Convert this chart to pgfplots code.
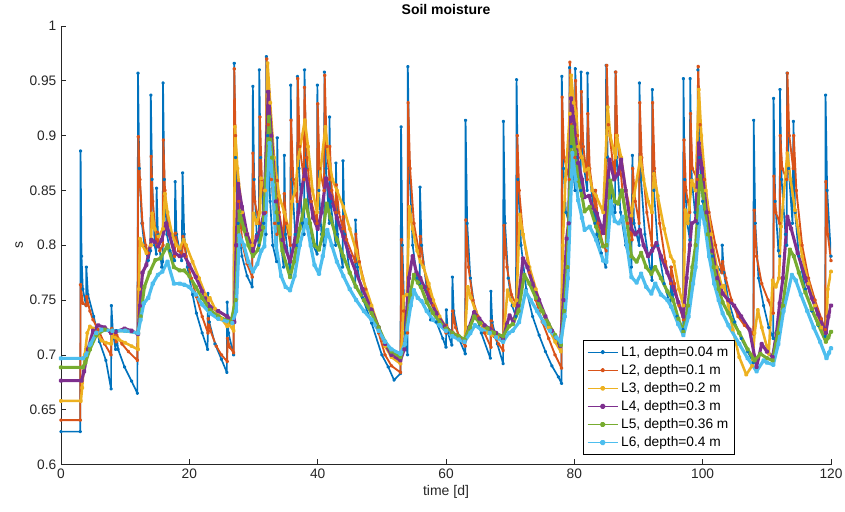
\documentclass[border=0pt]{standalone}
\usepackage{fontspec}
\setmainfont{Liberation Sans}
\usepackage{pgfplots}
\pgfplotsset{compat=1.18}
\definecolor{c1}{RGB}{0,114,189}
\definecolor{c2}{RGB}{217,83,25}
\definecolor{c3}{RGB}{237,177,32}
\definecolor{c4}{RGB}{126,47,142}
\definecolor{c5}{RGB}{119,172,48}
\definecolor{c6}{RGB}{77,190,238}
\definecolor{axc}{RGB}{38,38,38}
\begin{document}
\begin{tikzpicture}
\path[use as bounding box] (-45.75pt,-34.875pt) rectangle (588pt,348.375pt);
\begin{axis}[
  at={(0pt,0pt)}, anchor=south west,
  scale only axis, width=577.5pt, height=328.875pt,
  xmin=0, xmax=120, ymin=0.6, ymax=1,
  axis lines*=left, axis line style={axc,-},
  tick align=inside, tick style={axc, line width=0.5pt}, major tick length=4pt,
  xtick={0,20,...,120},
  ytick={0.6,0.65,0.7,0.75,0.8,0.85,0.9,0.95,1},
  yticklabels={0.6,0.65,0.7,0.75,0.8,0.85,0.9,0.95,1},
  ticklabel style={font=\fontsize{10.3}{12}\selectfont, text=axc},
  /pgf/number format/assume math mode=true,
  xlabel={time [d]}, ylabel={s},
  label style={font=\fontsize{10.5}{12}\selectfont, text=axc},
  xlabel style={yshift=2pt},
  ylabel style={yshift=-2pt},
  title={\textbf{Soil moisture}},
  title style={font=\fontsize{10.5}{12}\selectfont, yshift=-1pt},
  legend style={at={(0.875,0.022)}, anchor=south east, font=\fontsize{10.3}{12}\selectfont,
    draw=black, line width=0.5pt, row sep=0.6pt, inner sep=2.5pt, cells={anchor=west}},
  legend image code/.code={\draw[#1, line width=0.9pt] (0cm,0cm) -- (0.8cm,0cm); \fill[#1] (0.4cm,0cm) circle (1pt);},
  every axis plot/.append style={mark=*, mark size=0.7pt, line join=round},
]
\addplot[c1, line width=1.25pt, mark options={fill=c1,draw=c1}] coordinates {
(0,0.630)(3.0,0.630)(3.05,0.886)(3.2,0.79)(3.4,0.76)(3.9,0.745)(3.95,0.780)(4.2,0.755)(5.1,0.735)(6.0,0.712)(7.0,0.695)(7.8,0.669)(7.85,0.745)(8.1,0.72)(8.5,0.705)(8.6,0.722)(8.9,0.705)(9.9,0.689)(11.0,0.676)(11.9,0.665)
(12.0,0.957)(12.2,0.87)(12.6,0.82)(13.0,0.80)(13.6,0.786)(13.95,0.795)(14.0,0.937)(14.2,0.86)(14.6,0.80)(14.85,0.792)(14.9,0.852)(15.1,0.81)(15.7,0.780)(15.85,0.785)(15.9,0.948)(16.1,0.86)(16.5,0.81)(17.0,0.795)(17.7,0.786)(17.8,0.858)(18.0,0.81)(18.8,0.786)(18.95,0.866)(19.2,0.81)(19.7,0.78)(20.5,0.755)(21.1,0.738)(22.0,0.72)(22.85,0.705)(22.9,0.756)(23.1,0.73)(24.0,0.71)(25.0,0.696)(25.85,0.684)(25.9,0.748)(26.1,0.72)(26.9,0.70)
(27.0,0.966)(27.2,0.88)(27.6,0.82)(28.2,0.79)(29.0,0.772)(29.8,0.762)(29.9,0.945)(30.1,0.86)(30.5,0.81)(30.85,0.80)(30.9,0.960)(31.1,0.88)(31.6,0.82)(31.95,0.81)(32.0,0.972)(32.2,0.90)(32.6,0.84)(33.0,0.80)(33.6,0.785)(33.7,0.898)(33.9,0.82)(34.7,0.78)(34.8,0.882)(35.0,0.81)(35.75,0.772)(35.8,0.946)(36.0,0.86)(36.5,0.81)(36.8,0.80)(36.85,0.954)(37.1,0.87)(37.6,0.82)(37.9,0.81)(37.95,0.960)(38.2,0.87)(38.7,0.82)(39.3,0.80)(39.9,0.792)(39.95,0.946)(40.2,0.85)(40.6,0.81)(41.0,0.80)(41.05,0.958)(41.3,0.87)(41.8,0.82)(41.85,0.917)(42.0,0.84)(42.8,0.80)(42.85,0.875)(43.1,0.81)(43.9,0.78)(43.95,0.877)(44.2,0.81)(45.0,0.775)(45.85,0.762)(45.9,0.823)(46.2,0.78)(47.0,0.752)(48.4,0.729)(50.0,0.70)(51.0,0.689)(51.9,0.677)(52.9,0.683)
(53.0,0.908)(53.2,0.80)(53.6,0.72)(54.0,0.70)(54.05,0.963)(54.3,0.87)(54.8,0.80)(55.5,0.77)(55.9,0.765)(55.95,0.853)(56.2,0.80)(57.0,0.76)(57.6,0.732)(58.5,0.73)(59.5,0.715)(60.0,0.707)(60.05,0.741)(60.3,0.72)(60.9,0.709)(61.0,0.771)(61.2,0.74)(62.0,0.715)(63.0,0.701)(63.05,0.914)(63.3,0.82)(63.8,0.77)(64.5,0.74)(65.5,0.72)(66.9,0.697)(67.0,0.758)(67.2,0.73)(68.0,0.71)(68.9,0.692)(68.95,0.913)(69.2,0.82)(69.7,0.77)(70.3,0.745)(70.9,0.735)(71.0,0.951)(71.2,0.86)(71.7,0.80)(72.5,0.76)(73.5,0.735)(74.5,0.718)(75.5,0.703)(76.5,0.69)(77.5,0.68)(78.0,0.674)
(78.05,0.954)(78.3,0.87)(78.7,0.83)(79.2,0.82)(79.25,0.962)(79.5,0.89)(80.1,0.85)(80.15,0.961)(80.4,0.88)(81.0,0.85)(81.05,0.958)(81.3,0.88)(82.0,0.85)(82.05,0.957)(82.3,0.87)(83.2,0.82)(83.25,0.850)(83.5,0.81)(84.2,0.793)(84.9,0.78)(84.95,0.964)(85.2,0.88)(85.8,0.84)(86.35,0.83)(86.4,0.958)(86.6,0.88)(87.2,0.83)(88.0,0.80)(88.9,0.78)(89.05,0.882)(89.3,0.82)(90.1,0.80)(90.15,0.948)(90.4,0.86)(91.0,0.81)(92.1,0.768)(92.15,0.942)(92.4,0.85)(93.0,0.80)(94.0,0.765)(95.0,0.744)(95.05,0.780)(95.3,0.755)(96.0,0.735)(96.95,0.723)
(97.0,0.952)(97.2,0.86)(97.6,0.82)(98.0,0.805)(98.05,0.952)(98.3,0.86)(98.8,0.83)(99.2,0.82)(99.25,0.960)(99.5,0.88)(100.0,0.84)(100.8,0.81)(101.5,0.79)(102.3,0.78)(103.0,0.775)(103.05,0.800)(103.3,0.775)(104.0,0.75)(105.0,0.73)(106.0,0.715)(107.0,0.703)(107.9,0.693)(107.95,0.914)(108.2,0.82)(108.7,0.77)(109.5,0.745)(110.3,0.725)(111.0,0.715)(111.05,0.934)(111.3,0.84)(111.8,0.795)(112.0,0.79)(112.05,0.942)(112.3,0.86)(112.9,0.81)(113.1,0.80)(113.15,0.957)(113.4,0.87)(114.0,0.82)(114.15,0.913)(114.4,0.83)(115.0,0.79)(116.0,0.76)(117.0,0.74)(118.0,0.727)(119.1,0.717)(119.15,0.937)(119.4,0.85)(120.0,0.79)
};
\addlegendentry{L1, depth=0.04 m}
\addplot[c2, line width=1.4pt, mark options={fill=c2,draw=c2}] coordinates {
(0,0.6405)(3.0,0.6405)(3.05,0.764)(3.4,0.747)(3.95,0.745)(4.0,0.753)(4.5,0.74)(5.0,0.732)(5.8,0.723)(6.8,0.71)(7.8,0.700)(7.9,0.724)(8.3,0.718)(8.6,0.712)(8.7,0.718)(9.5,0.71)(10.5,0.703)(11.9,0.695)
(12.05,0.899)(12.3,0.86)(12.7,0.82)(13.2,0.80)(13.6,0.793)(14.0,0.80)(14.05,0.881)(14.3,0.84)(14.9,0.80)(15.0,0.812)(15.4,0.795)(15.9,0.80)(15.95,0.896)(16.2,0.85)(16.8,0.81)(17.7,0.790)(17.85,0.811)(18.3,0.795)(18.9,0.792)(19.0,0.808)(19.5,0.79)(20.3,0.77)(21.1,0.753)(22.0,0.735)(22.9,0.720)(22.95,0.733)(23.3,0.722)(24.2,0.708)(25.0,0.70)(25.9,0.694)(25.95,0.715)(26.3,0.707)(26.9,0.702)
(27.0,0.961)(27.2,0.90)(27.7,0.84)(28.3,0.80)(29.0,0.783)(29.8,0.771)(29.9,0.884)(30.2,0.84)(30.9,0.82)(31.0,0.917)(31.3,0.86)(31.9,0.83)(32.05,0.970)(32.3,0.91)(32.8,0.86)(33.3,0.82)(33.65,0.81)(33.7,0.859)(34.0,0.83)(34.7,0.805)(34.8,0.847)(35.1,0.82)(35.75,0.80)(35.85,0.914)(36.2,0.86)(36.8,0.84)(36.9,0.952)(37.2,0.89)(37.85,0.86)(37.95,0.944)(38.3,0.88)(39.0,0.84)(39.9,0.82)(40.0,0.929)(40.3,0.87)(41.0,0.85)(41.1,0.955)(41.4,0.89)(41.85,0.86)(41.9,0.89)(42.2,0.85)(42.85,0.83)(42.9,0.855)(43.3,0.83)(43.95,0.815)(44.0,0.826)(44.5,0.805)(45.85,0.785)(45.95,0.81)(46.5,0.785)(47.5,0.76)(48.4,0.738)(49.5,0.72)(50.5,0.70)(51.5,0.69)(52.9,0.684)
(53.05,0.805)(53.4,0.74)(54.0,0.72)(54.1,0.93)(54.4,0.87)(55.0,0.82)(55.9,0.79)(56.0,0.808)(56.4,0.785)(57.2,0.76)(58.0,0.745)(59.0,0.73)(60.0,0.72)(60.05,0.727)(61.0,0.718)(61.05,0.74)(61.5,0.725)(62.2,0.715)(63.0,0.708)(63.1,0.823)(63.5,0.78)(64.2,0.75)(65.0,0.735)(66.0,0.72)(67.0,0.707)(67.05,0.731)(67.5,0.717)(68.2,0.71)(68.9,0.704)(69.05,0.818)(69.5,0.78)(70.2,0.755)(71.0,0.745)(71.1,0.900)(71.4,0.85)(72.0,0.81)(73.0,0.775)(74.0,0.75)(75.0,0.73)(76.0,0.715)(77.0,0.70)(78.0,0.688)
(78.1,0.935)(78.4,0.88)(79.2,0.86)(79.3,0.967)(79.6,0.91)(80.1,0.88)(80.2,0.95)(80.5,0.90)(81.0,0.88)(81.1,0.94)(81.4,0.89)(82.0,0.86)(82.1,0.92)(82.4,0.87)(83.2,0.835)(83.3,0.85)(83.7,0.82)(84.5,0.80)(84.95,0.795)(85.05,0.964)(85.3,0.91)(86.3,0.86)(86.45,0.958)(86.7,0.90)(87.5,0.85)(88.3,0.82)(89.0,0.805)(89.1,0.87)(89.5,0.84)(90.1,0.82)(90.2,0.93)(90.5,0.88)(91.3,0.83)(92.1,0.80)(92.2,0.93)(92.5,0.87)(93.3,0.82)(94.2,0.785)(95.0,0.765)(95.1,0.78)(95.6,0.765)(96.3,0.745)(97.0,0.732)
(97.1,0.896)(97.4,0.85)(98.0,0.83)(98.1,0.920)(98.4,0.87)(99.2,0.86)(99.3,0.963)(99.6,0.91)(100.3,0.86)(101.0,0.83)(102.0,0.80)(103.0,0.775)(103.1,0.785)(103.6,0.77)(104.5,0.75)(105.5,0.735)(106.5,0.727)(107.9,0.719)(108.05,0.832)(108.4,0.79)(109.2,0.765)(110.2,0.75)(111.0,0.738)(111.1,0.863)(111.4,0.83)(112.0,0.82)(112.1,0.90)(112.4,0.87)(113.1,0.86)(113.2,0.957)(113.5,0.90)(114.1,0.87)(114.2,0.90)(114.6,0.85)(115.5,0.80)(116.5,0.77)(117.5,0.75)(118.5,0.733)(119.1,0.723)(119.2,0.858)(119.5,0.81)(120.0,0.786)
};
\addlegendentry{L2, depth=0.1 m}
\addplot[c3, line width=1.9pt, mark options={fill=c3,draw=c3}] coordinates {
(0,0.658)(3.1,0.658)(3.3,0.67)(3.7,0.70)(4.1,0.72)(4.5,0.726)(5.0,0.724)(5.6,0.72)(6.3,0.713)(7.0,0.711)(7.8,0.710)(8.0,0.719)(8.4,0.716)(9.0,0.714)(10.0,0.711)(11.0,0.708)(12.0,0.705)
(12.15,0.76)(12.3,0.806)(12.7,0.80)(13.3,0.793)(14.0,0.80)(14.2,0.829)(14.6,0.815)(15.2,0.808)(15.9,0.815)(16.2,0.847)(16.6,0.83)(17.3,0.81)(18.0,0.80)(18.5,0.797)(19.1,0.805)(19.5,0.80)(20.5,0.785)(21.5,0.77)(22.5,0.755)(23.0,0.75)(23.2,0.752)(24.0,0.742)(25.0,0.733)(25.9,0.726)(26.2,0.728)(26.9,0.722)
(27.1,0.908)(27.5,0.87)(28.2,0.83)(29.0,0.81)(29.8,0.80)(30.0,0.829)(30.5,0.82)(31.0,0.83)(31.2,0.861)(31.8,0.85)(32.2,0.966)(32.6,0.93)(33.2,0.88)(34.0,0.845)(34.8,0.83)(35.7,0.81)(36.0,0.84)(36.5,0.85)(37.0,0.88)(38.0,0.914)(38.5,0.89)(39.2,0.85)(39.9,0.83)(40.3,0.86)(41.2,0.908)(41.7,0.88)(42.3,0.86)(43.0,0.85)(44.0,0.835)(45.0,0.815)(46.0,0.795)(47.0,0.77)(48.4,0.745)(49.5,0.725)(50.5,0.708)(51.5,0.698)(52.9,0.692)
(53.2,0.720)(53.4,0.753)(53.9,0.755)(54.3,0.835)(54.8,0.815)(55.5,0.795)(56.0,0.785)(56.5,0.78)(57.3,0.765)(58.0,0.75)(59.0,0.735)(60.0,0.725)(61.0,0.72)(62.0,0.716)(62.9,0.712)(63.4,0.762)(63.9,0.752)(64.6,0.74)(65.5,0.728)(66.5,0.72)(67.2,0.718)(68.0,0.716)(68.9,0.713)(69.6,0.759)(70.1,0.75)(70.6,0.745)(71.0,0.75)(71.5,0.828)(72.0,0.81)(73.0,0.78)(74.0,0.76)(75.0,0.74)(76.0,0.725)(77.0,0.712)(77.9,0.703)
(78.2,0.80)(78.6,0.86)(79.3,0.92)(79.5,0.955)(79.9,0.93)(80.3,0.92)(80.6,0.89)(81.2,0.88)(81.6,0.868)(82.2,0.87)(82.8,0.85)(83.4,0.845)(84.5,0.83)(85.2,0.926)(85.6,0.90)(86.4,0.88)(86.6,0.90)(87.3,0.88)(88.0,0.85)(88.9,0.827)(89.3,0.845)(90.3,0.88)(90.8,0.86)(91.5,0.84)(92.1,0.83)(92.4,0.865)(93.0,0.845)(94.0,0.815)(95.0,0.79)(95.5,0.785)(96.3,0.76)(97.0,0.745)
(97.3,0.832)(97.7,0.82)(98.3,0.859)(98.9,0.85)(99.4,0.942)(99.8,0.90)(100.5,0.85)(101.3,0.81)(102.2,0.78)(103.0,0.762)(103.3,0.763)(104.0,0.745)(104.7,0.723)(105.7,0.698)(106.8,0.682)(107.7,0.69)(108.1,0.72)(108.6,0.741)(109.2,0.725)(110.3,0.701)(110.9,0.768)(111.4,0.762)(111.9,0.77)(112.2,0.817)(113.2,0.884)(113.7,0.86)(114.4,0.832)(115.5,0.79)(116.5,0.765)(117.5,0.745)(118.5,0.725)(119.2,0.712)(119.5,0.76)(120.0,0.776)
};
\addlegendentry{L3, depth=0.2 m}
\addplot[c4, line width=2.3pt, mark options={fill=c4,draw=c4}] coordinates {
(0,0.6765)(3.2,0.6765)(3.6,0.685)(4.2,0.705)(5.0,0.722)(5.8,0.727)(6.8,0.725)(7.8,0.720)(8.5,0.721)(9.9,0.724)(11.0,0.722)(12.0,0.719)
(12.3,0.745)(12.7,0.775)(13.3,0.782)(14.1,0.805)(14.6,0.803)(15.1,0.799)(15.7,0.805)(16.4,0.820)(16.9,0.81)(17.7,0.793)(18.5,0.790)(19.2,0.791)(20.0,0.782)(21.0,0.771)(22.0,0.758)(23.2,0.744)(24.5,0.74)(25.9,0.735)(27.0,0.73)
(27.3,0.80)(27.6,0.856)(28.2,0.835)(29.0,0.81)(29.9,0.795)(30.5,0.808)(31.1,0.815)(31.6,0.829)(32.3,0.940)(32.8,0.90)(33.5,0.84)(34.5,0.805)(35.7,0.785)(36.3,0.80)(37.0,0.83)(38.0,0.869)(38.6,0.85)(39.3,0.825)(40.0,0.815)(40.6,0.83)(41.3,0.861)(42.0,0.845)(43.0,0.825)(44.0,0.808)(45.0,0.79)(46.0,0.775)(47.0,0.76)(48.4,0.741)(49.5,0.725)(50.5,0.71)(51.5,0.70)(52.9,0.695)
(53.5,0.705)(54.2,0.77)(54.8,0.790)(55.4,0.775)(56.0,0.77)(56.6,0.762)(57.5,0.75)(58.5,0.738)(59.8,0.726)(61.0,0.72)(62.0,0.716)(62.9,0.713)(63.6,0.725)(64.4,0.739)(65.2,0.733)(66.0,0.727)(66.8,0.724)(67.8,0.72)(68.9,0.715)(69.5,0.728)(69.9,0.736)(70.5,0.73)(71.2,0.745)(72.0,0.788)(72.7,0.78)(73.5,0.765)(74.5,0.75)(75.5,0.735)(76.5,0.722)(77.8,0.708)
(78.3,0.75)(78.8,0.806)(79.1,0.82)(79.5,0.934)(80.0,0.91)(80.6,0.875)(81.2,0.86)(81.6,0.844)(82.3,0.845)(82.8,0.835)(83.5,0.829)(84.5,0.811)(85.5,0.878)(86.2,0.86)(86.8,0.865)(87.3,0.878)(88.0,0.85)(88.9,0.815)(89.5,0.81)(90.2,0.814)(90.8,0.80)(91.5,0.79)(92.1,0.795)(92.8,0.802)(93.5,0.79)(94.5,0.775)(95.4,0.762)(96.2,0.748)(97.0,0.735)
(97.5,0.77)(98.0,0.80)(98.3,0.82)(98.9,0.822)(99.4,0.893)(99.9,0.87)(100.6,0.83)(101.5,0.795)(102.3,0.77)(103.1,0.756)(104.0,0.75)(104.9,0.745)(106.0,0.735)(107.3,0.723)(108.4,0.689)(109.2,0.710)(110.0,0.703)(110.9,0.698)(111.5,0.72)(112.0,0.747)(112.5,0.77)(113.2,0.826)(113.8,0.815)(114.8,0.793)(116.0,0.77)(117.0,0.752)(118.0,0.737)(119.2,0.720)(119.6,0.735)(120.0,0.745)
};
\addlegendentry{L4, depth=0.3 m}
\addplot[c5, line width=2.3pt, mark options={fill=c5,draw=c5}] coordinates {
(0,0.6886)(3.4,0.6886)(3.8,0.693)(4.5,0.705)(5.5,0.718)(6.8,0.723)(8.0,0.722)(10.0,0.722)(12.0,0.720)
(12.4,0.735)(13.0,0.762)(13.8,0.775)(14.7,0.7865)(15.5,0.788)(16.6,0.800)(17.6,0.780)(18.5,0.777)(19.2,0.777)(20.0,0.772)(21.0,0.762)(22.0,0.752)(23.2,0.741)(24.5,0.735)(26.5,0.730)
(27.2,0.75)(27.8,0.831)(28.5,0.815)(29.2,0.80)(29.9,0.790)(30.7,0.796)(31.5,0.816)(32.4,0.917)(32.9,0.88)(33.6,0.83)(34.5,0.795)(35.7,0.771)(36.3,0.785)(37.2,0.815)(38.1,0.841)(38.8,0.82)(39.5,0.80)(40.2,0.796)(40.8,0.81)(41.4,0.838)(42.0,0.825)(43.0,0.805)(44.0,0.79)(45.0,0.775)(46.0,0.762)(47.2,0.75)(48.4,0.738)(49.5,0.725)(50.5,0.712)(51.5,0.703)(52.9,0.698)
(53.6,0.71)(54.4,0.755)(55.0,0.773)(55.6,0.766)(56.1,0.762)(57.0,0.748)(58.0,0.738)(59.0,0.73)(60.0,0.724)(61.0,0.72)(62.0,0.717)(62.9,0.714)(63.7,0.725)(64.4,0.735)(65.3,0.729)(66.5,0.724)(67.5,0.72)(68.9,0.717)(69.8,0.726)(70.4,0.728)(71.3,0.74)(72.2,0.773)(73.0,0.765)(74.0,0.752)(75.0,0.74)(76.0,0.728)(77.0,0.718)(77.9,0.709)
(78.4,0.74)(78.9,0.78)(79.6,0.908)(80.1,0.885)(80.6,0.859)(81.2,0.845)(81.6,0.831)(82.4,0.835)(83.4,0.817)(84.5,0.799)(85.0,0.80)(85.6,0.859)(86.3,0.84)(86.8,0.838)(87.4,0.850)(88.1,0.825)(88.9,0.790)(89.7,0.785)(90.4,0.793)(91.2,0.78)(92.0,0.774)(92.6,0.78)(93.5,0.77)(94.5,0.758)(95.4,0.75)(96.2,0.733)(97.0,0.721)
(97.7,0.745)(98.4,0.78)(98.9,0.80)(99.6,0.863)(100.1,0.845)(100.8,0.81)(101.7,0.78)(102.5,0.76)(103.1,0.748)(104.0,0.738)(105.7,0.720)(107.0,0.705)(108.1,0.695)(109.0,0.701)(110.0,0.697)(110.9,0.695)(111.7,0.72)(112.5,0.745)(113.6,0.796)(114.2,0.79)(115.0,0.775)(116.0,0.757)(117.0,0.742)(118.0,0.728)(119.2,0.712)(119.6,0.716)(120.0,0.721)
};
\addlegendentry{L5, depth=0.36 m}
\addplot[c6, line width=2.4pt, mark options={fill=c6,draw=c6}] coordinates {
(0,0.6968)(3.4,0.6968)(3.9,0.70)(4.6,0.71)(5.5,0.72)(6.3,0.723)(8.0,0.722)(10.0,0.722)(12.0,0.720)
(12.4,0.732)(12.9,0.747)(13.6,0.752)(14.3,0.765)(15.1,0.773)(15.8,0.776)(16.6,0.785)(17.6,0.765)(18.5,0.765)(19.2,0.764)(20.0,0.762)(21.0,0.755)(22.0,0.746)(23.2,0.738)(24.5,0.733)(26.7,0.729)
(27.3,0.74)(27.8,0.809)(28.5,0.80)(29.2,0.785)(29.9,0.776)(30.6,0.783)(31.2,0.795)(31.7,0.799)(32.5,0.893)(33.0,0.855)(33.5,0.80)(34.3,0.772)(35.0,0.762)(35.7,0.759)(36.4,0.772)(37.2,0.80)(38.2,0.823)(38.9,0.80)(39.5,0.782)(40.2,0.774)(40.8,0.79)(41.5,0.814)(42.2,0.80)(43.0,0.785)(44.0,0.772)(45.0,0.76)(46.0,0.750)(47.2,0.74)(48.4,0.732)(49.5,0.722)(50.5,0.712)(51.5,0.705)(52.9,0.701)
(53.6,0.71)(54.5,0.745)(55.0,0.759)(55.6,0.752)(56.2,0.749)(57.0,0.74)(58.0,0.732)(59.0,0.727)(60.0,0.722)(61.0,0.717)(62.0,0.714)(62.9,0.712)(63.8,0.72)(64.5,0.727)(65.5,0.723)(66.8,0.720)(67.8,0.716)(68.9,0.712)(69.8,0.72)(70.4,0.722)(71.4,0.73)(72.4,0.758)(73.2,0.75)(74.2,0.74)(75.2,0.73)(76.2,0.722)(77.2,0.716)(77.9,0.712)
(78.5,0.735)(79.0,0.77)(79.7,0.884)(80.2,0.86)(80.6,0.841)(81.2,0.825)(81.6,0.814)(82.4,0.817)(83.4,0.805)(84.5,0.786)(85.0,0.785)(85.7,0.840)(86.3,0.822)(86.9,0.82)(87.5,0.826)(88.2,0.80)(88.9,0.771)(89.7,0.766)(90.4,0.774)(91.2,0.762)(92.0,0.756)(92.6,0.765)(93.5,0.755)(94.5,0.75)(95.1,0.744)(96.2,0.728)(97.0,0.718)
(97.8,0.735)(98.5,0.765)(98.9,0.78)(99.7,0.835)(100.3,0.82)(101.0,0.79)(101.8,0.765)(102.5,0.75)(103.1,0.738)(104.0,0.727)(105.7,0.710)(107.0,0.697)(108.4,0.685)(109.5,0.695)(110.0,0.693)(111.0,0.691)(111.8,0.71)(112.6,0.74)(113.9,0.773)(114.5,0.768)(115.3,0.755)(116.3,0.74)(117.3,0.725)(118.3,0.712)(119.3,0.697)(119.7,0.702)(120.0,0.706)
};
\addlegendentry{L6, depth=0.4 m}
\end{axis}
\end{tikzpicture}
\end{document}
